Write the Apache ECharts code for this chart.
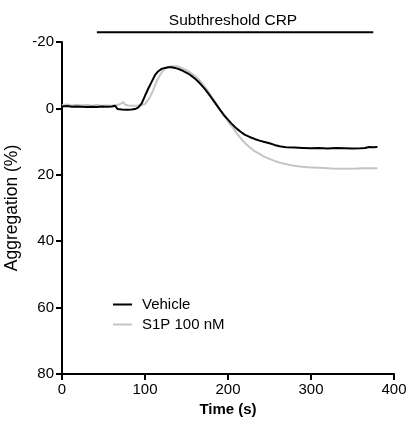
<!DOCTYPE html>
<html><head><meta charset="utf-8">
<script src="https://cdn.jsdelivr.net/npm/echarts@6/dist/echarts.min.js"></script>
<style>html,body{margin:0;padding:0;background:#fff}#c{width:409px;height:426px}</style>
</head><body><div id="c"></div>
<script>
var vehicleT = [0,6,12,18,24,30,36,42,48,54,60,64,66,67,72,78,84,88,92,96,100,104,108,112,116,120,124,128,132,136,140,144,148,152,156,160,164,168,172,176,180,184,188,192,196,200,204,208,212,216,220,226,232,238,244,250,256,262,270,280,290,300,310,320,330,340,350,360,365,370,375,380];
var vehicleV = [-0.6,-0.7,-0.5,-0.6,-0.5,-0.4,-0.5,-0.4,-0.6,-0.5,-0.6,-0.8,-0.5,0.2,0.3,0.4,0.3,0.2,-0.3,-1.5,-3.8,-6.0,-8.0,-10.0,-11.2,-11.9,-12.2,-12.4,-12.4,-12.2,-11.9,-11.5,-11.0,-10.5,-9.8,-9.0,-8.1,-7.0,-5.9,-4.6,-3.2,-1.8,-0.4,1.0,2.3,3.4,4.5,5.5,6.4,7.2,7.9,8.6,9.2,9.7,10.1,10.5,11.0,11.4,11.7,11.8,11.9,12.0,11.9,12.1,11.9,12.0,12.1,12.0,11.9,11.6,11.7,11.6];
var s1pT = [0,6,12,18,24,30,36,42,48,54,60,66,70,74,76,80,86,92,96,100,102,106,110,114,118,122,126,130,134,138,142,146,150,154,158,162,166,170,174,178,182,186,190,194,198,202,206,210,214,218,222,226,232,238,244,250,256,262,268,276,286,296,310,325,340,355,365,372,380];
var s1pV = [-1.0,-1.2,-0.9,-1.1,-0.9,-1.0,-0.8,-1.0,-0.8,-0.9,-0.8,-1.0,-1.3,-1.9,-1.1,-0.9,-0.8,-0.9,-1.0,-1.3,-1.9,-3.4,-5.6,-8.2,-10.0,-11.5,-12.2,-12.6,-12.7,-12.7,-12.4,-12.0,-11.5,-10.9,-10.2,-9.4,-8.4,-7.2,-5.9,-4.4,-2.9,-1.4,0.1,1.6,3.1,4.6,5.9,7.3,8.6,9.8,10.8,11.7,12.9,13.7,14.6,15.2,15.8,16.3,16.7,17.1,17.5,17.7,17.9,18.1,18.2,18.1,18.0,18.0,18.0];
var crpBar = [42, 375];
var crpLevel = -22.9;
var xTicks = [0,100,200,300,400];
var yTicks = [-20,0,20,40,60,80];

function zip(t, v){ return t.map(function(x,i){ return [x, v[i]]; }); }
var FONT = 'Liberation Sans, Arial, sans-serif';
var chart = echarts.init(document.getElementById('c'), null, {renderer:'canvas'});
chart.setOption({
  animation:false,
  backgroundColor:'#fff',
  title:{text:'Subthreshold CRP', left:228, top:8, textAlign:'center',
    textStyle:{fontFamily:FONT, fontSize:15.5, fontWeight:'normal', color:'#000'}},
  legend:{orient:'vertical', left:108, top:292, itemWidth:19, itemHeight:2, itemGap:5,
    icon:'rect', textStyle:{fontFamily:FONT, fontSize:15, color:'#000', padding:[0,0,0,5]},
    data:['Vehicle','S1P 100 nM']},
  grid:{left:62, right:15, top:42, bottom:52, containLabel:false, outerBoundsMode:'none'},
  xAxis:{type:'value', min:xTicks[0], max:xTicks[xTicks.length-1], interval:100,
    name:'Time (s)', nameLocation:'middle', nameGap:26,
    nameTextStyle:{fontFamily:FONT, fontSize:15, fontWeight:'bold', color:'#000'},
    axisLine:{onZero:false, lineStyle:{color:'#000', width:2}},
    axisTick:{length:6, lineStyle:{color:'#000', width:2}},
    axisLabel:{fontFamily:FONT, fontSize:15, color:'#000', margin:8},
    splitLine:{show:false}},
  yAxis:{type:'value', inverse:true, min:yTicks[0], max:yTicks[yTicks.length-1], interval:20,
    name:'Aggregation (%)', nameLocation:'middle', nameGap:33, nameRotate:90,
    nameTextStyle:{fontFamily:FONT, fontSize:17.5, color:'#000'},
    axisLine:{show:true, onZero:false, lineStyle:{color:'#000', width:2}},
    axisTick:{show:true, length:6, lineStyle:{color:'#000', width:2}},
    axisLabel:{fontFamily:FONT, fontSize:15, color:'#000', margin:8},
    splitLine:{show:false}},
  series:[
    {name:'S1P 100 nM', type:'line', data:zip(s1pT, s1pV), showSymbol:false, symbol:'none',
      lineStyle:{color:'#c4c4c4', width:2}, itemStyle:{color:'#c4c4c4'}, z:2},
    {name:'Vehicle', type:'line', data:zip(vehicleT, vehicleV), showSymbol:false, symbol:'none',
      lineStyle:{color:'#000', width:2}, itemStyle:{color:'#000'}, z:3},
    {name:'crp', type:'line', data:[[crpBar[0], crpLevel],[crpBar[1], crpLevel]], clip:false,
      showSymbol:false, symbol:'none', lineStyle:{color:'#000', width:2}, silent:true, z:4}
  ]
});
</script></body></html>
